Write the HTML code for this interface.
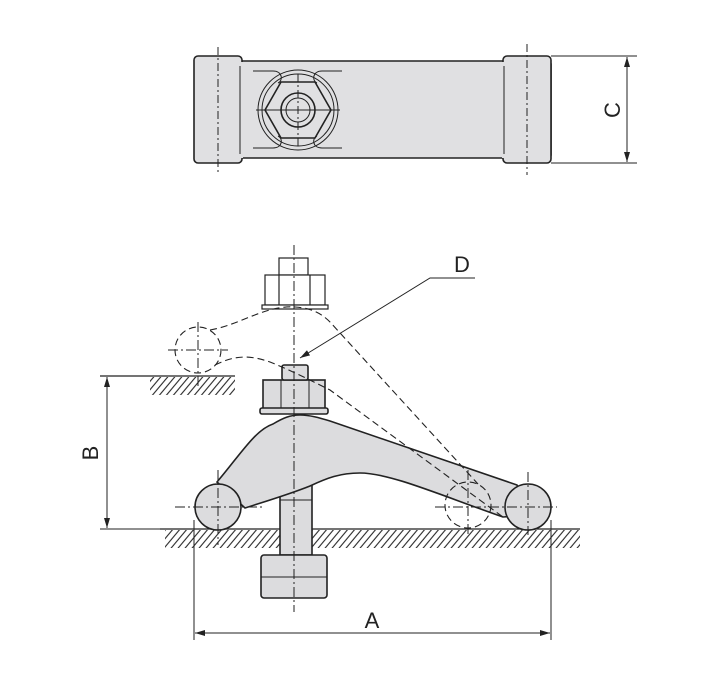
<!DOCTYPE html>
<html><head><style>html,body{margin:0;padding:0;background:#fff}svg{display:block}</style></head><body>
<svg width="703" height="673" viewBox="0 0 703 673" xmlns="http://www.w3.org/2000/svg" font-family="Liberation Sans, sans-serif">
<defs>
<pattern id="h" width="7" height="20" patternUnits="userSpaceOnUse" patternTransform="skewX(-40)">
<line x1="1" y1="0" x2="1" y2="20" stroke="#222" stroke-width="1.4"/>
</pattern>
<marker id="ar" markerWidth="10" markerHeight="6" refX="10" refY="3" orient="auto-start-reverse" markerUnits="userSpaceOnUse"><path d="M0,0L10,3L0,6z" fill="#222"/></marker>
</defs>
<g stroke="#222" stroke-width="1.6" fill="#e0e0e2">
<rect x="198" y="61" width="353" height="97" rx="3"/>
<rect x="194" y="56" width="48" height="107" rx="4"/>
<rect x="503" y="56" width="48" height="107" rx="4"/>
</g>
<g stroke="#222" stroke-width="1" fill="none">
<line x1="242" y1="62" x2="242" y2="158" stroke="#e0e0e2" stroke-width="2"/>
<line x1="503" y1="62" x2="503" y2="158" stroke="#e0e0e2" stroke-width="2"/>
<line x1="240" y1="66" x2="240" y2="154"/>
<line x1="504" y1="66" x2="504" y2="154"/>
<path d="M253,71h20c10,0 10,10 5,12 M253,148h20c10,0 10,-10 5,-12 M342,71h-20c-10,0 -10,10 -5,12 M342,148h-20c-10,0 -10,-10 -5,-12"/>
<circle cx="298" cy="110" r="40"/>
<circle cx="298" cy="110" r="36"/>
<polygon points="265,110 281,82 315,82 331,110 315,138 281,138" stroke-width="1.6"/>
<circle cx="298" cy="110" r="17" stroke-width="1.6"/>
<circle cx="298" cy="110" r="12"/>
<line x1="256" y1="110" x2="340" y2="110"/>
<line x1="298" y1="74" x2="298" y2="146" stroke-dasharray="8,3,2,3"/>
<line x1="218" y1="47" x2="218" y2="175" stroke-dasharray="8,3,2,3"/>
<line x1="527" y1="44" x2="527" y2="175" stroke-dasharray="8,3,2,3"/>
<line x1="551" y1="56" x2="637" y2="56"/>
<line x1="551" y1="163" x2="637" y2="163"/>
<line x1="627" y1="57" x2="627" y2="162" marker-start="url(#ar)" marker-end="url(#ar)"/>
</g>
<text x="0" y="0" font-size="22" fill="#222" transform="translate(620,110) rotate(-90)" text-anchor="middle">C</text>

<rect x="165" y="530" width="415" height="18" fill="url(#h)"/>
<rect x="150" y="377" width="85" height="18" fill="url(#h)"/>
<g stroke="#222" stroke-width="1.2">
<line x1="160" y1="529" x2="580" y2="529"/>
<line x1="100" y1="376" x2="235" y2="376"/>
</g>
<g stroke="#222" stroke-width="1.2" fill="#fff">
<rect x="279" y="258" width="29" height="17"/>
<rect x="265" y="275" width="60" height="30"/>
<line x1="279" y1="275" x2="279" y2="305"/><line x1="310" y1="275" x2="310" y2="305"/>
<rect x="262" y="305" width="66" height="4"/>
</g>
<g stroke="#222" stroke-width="1.6" fill="#dcdcde">
<rect x="280" y="470" width="32" height="85"/>
<rect x="261" y="555" width="66" height="43" rx="3"/>
<path d="M217,482 C240,455 255,430 273,424 C283,418 290,415 300,415 C310,415 320,418 330,421 L517,485 L528,515 L503,517 C440,495 390,473 360,473 C340,473 327,478 310,486 C290,494 270,500 245,508 Z"/>
<circle cx="218" cy="507" r="23"/>
<circle cx="528" cy="507" r="23"/>
<rect x="263" y="380" width="62" height="32"/>
<rect x="260" y="408" width="68" height="6" rx="2"/>
<rect x="282" y="365" width="26" height="15" rx="2"/>
</g>
<g stroke="#222" stroke-width="1.1" fill="none" stroke-dasharray="7,4">
<circle cx="198" cy="350" r="23"/>
<circle cx="468" cy="505" r="23"/>
<path d="M210,330 C240,325 265,305 295,307 C310,308 320,312 330,322 L478,484"/>
<path d="M215,365 C235,355 250,355 270,362 C290,370 310,380 330,390 L503,517"/>
</g>
<g stroke="#222" stroke-width="1" fill="none">
<line x1="281" y1="380" x2="281" y2="408"/><line x1="309" y1="380" x2="309" y2="408"/>
<line x1="261" y1="577" x2="327" y2="577"/>
<line x1="280" y1="500" x2="312" y2="500"/>
<line x1="294" y1="245" x2="294" y2="612" stroke-dasharray="10,3,2,3"/>
<line x1="175" y1="507" x2="262" y2="507" stroke-dasharray="10,3,2,3"/>
<line x1="218" y1="470" x2="218" y2="545" stroke-dasharray="10,3,2,3"/>
<line x1="435" y1="507" x2="557" y2="507" stroke-dasharray="10,3,2,3"/>
<line x1="528" y1="472" x2="528" y2="535" stroke-dasharray="10,3,2,3"/>
<line x1="468" y1="470" x2="468" y2="535" stroke-dasharray="10,3,2,3"/>
<line x1="168" y1="350" x2="228" y2="350" stroke-dasharray="10,3,2,3"/>
<line x1="198" y1="322" x2="198" y2="386" stroke-dasharray="10,3,2,3"/>
<line x1="100" y1="529" x2="160" y2="529"/>
<line x1="107" y1="377" x2="107" y2="528" marker-start="url(#ar)" marker-end="url(#ar)"/>
<line x1="194" y1="520" x2="194" y2="640"/>
<line x1="551" y1="520" x2="551" y2="640"/>
<line x1="195" y1="633" x2="550" y2="633" marker-start="url(#ar)" marker-end="url(#ar)"/>
<polyline points="475,278 430,278 300,358" marker-end="url(#ar)"/>
</g>
<text x="0" y="0" font-size="22" fill="#222" transform="translate(98,453) rotate(-90)" text-anchor="middle">B</text>
<text x="372" y="628" font-size="22" fill="#222" text-anchor="middle">A</text>
<text x="462" y="272" font-size="22" fill="#222" text-anchor="middle">D</text>
</svg>
</body></html>
